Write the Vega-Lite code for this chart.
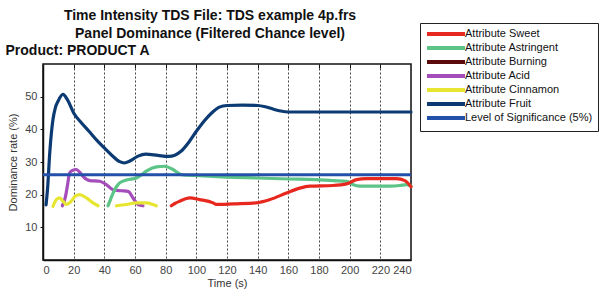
{
  "$schema": "https://vega.github.io/schema/vega-lite/v6.json",
  "autosize": {"type": "none"},
  "width": 368,
  "height": 196,
  "padding": {"left": 43, "top": 64, "right": 192, "bottom": 35},
  "background": "white",
  "config": {
    "font": "Liberation Sans",
    "view": {"stroke": "#111", "strokeWidth": 1.5},
    "axis": {"labelFont": "Liberation Sans", "titleFont": "Liberation Sans", "labelFontSize": 11, "titleFontSize": 11, "labelColor": "#444", "titleColor": "#333", "titleFontWeight": "normal", "domainColor": "#111", "domainWidth": 1.5, "tickColor": "#111"},
    "legend": {"labelFont": "Liberation Sans", "labelFontSize": 11, "labelColor": "#111"}
  },
  "title": {
    "text": ["Time Intensity TDS File: TDS example 4p.frs", "Panel Dominance (Filtered Chance level)"],
    "anchor": "middle",
    "frame": "group",
    "dx": -17,
    "dy": 22,
    "fontSize": 14,
    "fontWeight": "bold",
    "font": "Liberation Sans",
    "color": "#111",
    "lineHeight": 18,
    "offset": 4
  },
  "data": {
    "values": [
      {"s": "Attribute Fruit", "seg": 1, "t": 2, "v": 16.9},
      {"s": "Attribute Fruit", "seg": 1, "t": 3, "v": 22},
      {"s": "Attribute Fruit", "seg": 1, "t": 4.4, "v": 32.8},
      {"s": "Attribute Fruit", "seg": 1, "t": 5.5, "v": 39},
      {"s": "Attribute Fruit", "seg": 1, "t": 6.5, "v": 43},
      {"s": "Attribute Fruit", "seg": 1, "t": 8, "v": 46.5},
      {"s": "Attribute Fruit", "seg": 1, "t": 9.8, "v": 48.6},
      {"s": "Attribute Fruit", "seg": 1, "t": 13, "v": 50.7},
      {"s": "Attribute Fruit", "seg": 1, "t": 16, "v": 49},
      {"s": "Attribute Fruit", "seg": 1, "t": 20, "v": 45},
      {"s": "Attribute Fruit", "seg": 1, "t": 25, "v": 42},
      {"s": "Attribute Fruit", "seg": 1, "t": 30, "v": 39.4},
      {"s": "Attribute Fruit", "seg": 1, "t": 35, "v": 36.7},
      {"s": "Attribute Fruit", "seg": 1, "t": 40, "v": 34.3},
      {"s": "Attribute Fruit", "seg": 1, "t": 45, "v": 32},
      {"s": "Attribute Fruit", "seg": 1, "t": 50, "v": 30.1},
      {"s": "Attribute Fruit", "seg": 1, "t": 53, "v": 29.7},
      {"s": "Attribute Fruit", "seg": 1, "t": 57, "v": 30.4},
      {"s": "Attribute Fruit", "seg": 1, "t": 62, "v": 31.8},
      {"s": "Attribute Fruit", "seg": 1, "t": 67, "v": 32.4},
      {"s": "Attribute Fruit", "seg": 1, "t": 75, "v": 32},
      {"s": "Attribute Fruit", "seg": 1, "t": 82, "v": 31.7},
      {"s": "Attribute Fruit", "seg": 1, "t": 90, "v": 33.3},
      {"s": "Attribute Fruit", "seg": 1, "t": 95, "v": 36},
      {"s": "Attribute Fruit", "seg": 1, "t": 100, "v": 39.4},
      {"s": "Attribute Fruit", "seg": 1, "t": 105, "v": 42.5},
      {"s": "Attribute Fruit", "seg": 1, "t": 110, "v": 45},
      {"s": "Attribute Fruit", "seg": 1, "t": 115, "v": 46.8},
      {"s": "Attribute Fruit", "seg": 1, "t": 120, "v": 47.3},
      {"s": "Attribute Fruit", "seg": 1, "t": 130, "v": 47.4},
      {"s": "Attribute Fruit", "seg": 1, "t": 140, "v": 47.3},
      {"s": "Attribute Fruit", "seg": 1, "t": 145, "v": 46.9},
      {"s": "Attribute Fruit", "seg": 1, "t": 150, "v": 46.2},
      {"s": "Attribute Fruit", "seg": 1, "t": 155, "v": 45.6},
      {"s": "Attribute Fruit", "seg": 1, "t": 160, "v": 45.3},
      {"s": "Attribute Fruit", "seg": 1, "t": 200, "v": 45.3},
      {"s": "Attribute Fruit", "seg": 1, "t": 240, "v": 45.3},
      {"s": "Attribute Acid", "seg": 1, "t": 12.6, "v": 16.6},
      {"s": "Attribute Acid", "seg": 1, "t": 14.7, "v": 19.5},
      {"s": "Attribute Acid", "seg": 1, "t": 16, "v": 23},
      {"s": "Attribute Acid", "seg": 1, "t": 17.4, "v": 26.7},
      {"s": "Attribute Acid", "seg": 1, "t": 19.5, "v": 27.5},
      {"s": "Attribute Acid", "seg": 1, "t": 21.8, "v": 27.7},
      {"s": "Attribute Acid", "seg": 1, "t": 24, "v": 26.8},
      {"s": "Attribute Acid", "seg": 1, "t": 26.1, "v": 25.6},
      {"s": "Attribute Acid", "seg": 1, "t": 30.5, "v": 24.3},
      {"s": "Attribute Acid", "seg": 1, "t": 37, "v": 24.1},
      {"s": "Attribute Acid", "seg": 1, "t": 41.3, "v": 23.1},
      {"s": "Attribute Acid", "seg": 1, "t": 45.7, "v": 21.5},
      {"s": "Attribute Acid", "seg": 1, "t": 51, "v": 21.2},
      {"s": "Attribute Acid", "seg": 1, "t": 55.5, "v": 21},
      {"s": "Attribute Acid", "seg": 1, "t": 58.7, "v": 19},
      {"s": "Attribute Acid", "seg": 1, "t": 62, "v": 17},
      {"s": "Attribute Acid", "seg": 1, "t": 65.2, "v": 16.6},
      {"s": "Attribute Cinnamon", "seg": 1, "t": 6.5, "v": 16.4},
      {"s": "Attribute Cinnamon", "seg": 1, "t": 8.7, "v": 18.5},
      {"s": "Attribute Cinnamon", "seg": 1, "t": 10.9, "v": 19},
      {"s": "Attribute Cinnamon", "seg": 1, "t": 13, "v": 18},
      {"s": "Attribute Cinnamon", "seg": 1, "t": 15.2, "v": 17},
      {"s": "Attribute Cinnamon", "seg": 1, "t": 18.5, "v": 18},
      {"s": "Attribute Cinnamon", "seg": 1, "t": 21, "v": 19.5},
      {"s": "Attribute Cinnamon", "seg": 1, "t": 24, "v": 20},
      {"s": "Attribute Cinnamon", "seg": 1, "t": 28.3, "v": 19},
      {"s": "Attribute Cinnamon", "seg": 1, "t": 32.6, "v": 17.5},
      {"s": "Attribute Cinnamon", "seg": 1, "t": 35.9, "v": 16.6},
      {"s": "Attribute Cinnamon", "seg": 2, "t": 47.9, "v": 16.6},
      {"s": "Attribute Cinnamon", "seg": 2, "t": 54.4, "v": 17},
      {"s": "Attribute Cinnamon", "seg": 2, "t": 60.9, "v": 17.5},
      {"s": "Attribute Cinnamon", "seg": 2, "t": 67.4, "v": 17.5},
      {"s": "Attribute Cinnamon", "seg": 2, "t": 71.7, "v": 17},
      {"s": "Attribute Cinnamon", "seg": 2, "t": 73.9, "v": 16.6},
      {"s": "Attribute Astringent", "seg": 1, "t": 42.4, "v": 16.6},
      {"s": "Attribute Astringent", "seg": 1, "t": 44, "v": 18.5},
      {"s": "Attribute Astringent", "seg": 1, "t": 45.7, "v": 20.5},
      {"s": "Attribute Astringent", "seg": 1, "t": 48, "v": 22.5},
      {"s": "Attribute Astringent", "seg": 1, "t": 50, "v": 23.6},
      {"s": "Attribute Astringent", "seg": 1, "t": 54.4, "v": 24.5},
      {"s": "Attribute Astringent", "seg": 1, "t": 60.9, "v": 25.1},
      {"s": "Attribute Astringent", "seg": 1, "t": 64, "v": 26},
      {"s": "Attribute Astringent", "seg": 1, "t": 67.4, "v": 27.2},
      {"s": "Attribute Astringent", "seg": 1, "t": 74, "v": 28.5},
      {"s": "Attribute Astringent", "seg": 1, "t": 79.4, "v": 28.7},
      {"s": "Attribute Astringent", "seg": 1, "t": 84.8, "v": 27.7},
      {"s": "Attribute Astringent", "seg": 1, "t": 90.3, "v": 26.1},
      {"s": "Attribute Astringent", "seg": 1, "t": 102, "v": 25.8},
      {"s": "Attribute Astringent", "seg": 1, "t": 119.6, "v": 25.4},
      {"s": "Attribute Astringent", "seg": 1, "t": 140, "v": 25.1},
      {"s": "Attribute Astringent", "seg": 1, "t": 161, "v": 24.8},
      {"s": "Attribute Astringent", "seg": 1, "t": 178, "v": 24.6},
      {"s": "Attribute Astringent", "seg": 1, "t": 189, "v": 24.3},
      {"s": "Attribute Astringent", "seg": 1, "t": 198, "v": 24.1},
      {"s": "Attribute Astringent", "seg": 1, "t": 202, "v": 23.1},
      {"s": "Attribute Astringent", "seg": 1, "t": 206.6, "v": 22.6},
      {"s": "Attribute Astringent", "seg": 1, "t": 226, "v": 22.6},
      {"s": "Attribute Astringent", "seg": 1, "t": 232.7, "v": 22.8},
      {"s": "Attribute Astringent", "seg": 1, "t": 237, "v": 23.1},
      {"s": "Attribute Astringent", "seg": 1, "t": 240, "v": 22.6},
      {"s": "Attribute Sweet", "seg": 1, "t": 83.7, "v": 16.6},
      {"s": "Attribute Sweet", "seg": 1, "t": 86, "v": 17.3},
      {"s": "Attribute Sweet", "seg": 1, "t": 89.2, "v": 18},
      {"s": "Attribute Sweet", "seg": 1, "t": 95.7, "v": 19},
      {"s": "Attribute Sweet", "seg": 1, "t": 102, "v": 18.5},
      {"s": "Attribute Sweet", "seg": 1, "t": 110.9, "v": 17.5},
      {"s": "Attribute Sweet", "seg": 1, "t": 113, "v": 17},
      {"s": "Attribute Sweet", "seg": 1, "t": 124, "v": 17.2},
      {"s": "Attribute Sweet", "seg": 1, "t": 139, "v": 17.5},
      {"s": "Attribute Sweet", "seg": 1, "t": 148, "v": 18.5},
      {"s": "Attribute Sweet", "seg": 1, "t": 158.8, "v": 20.5},
      {"s": "Attribute Sweet", "seg": 1, "t": 167.5, "v": 22},
      {"s": "Attribute Sweet", "seg": 1, "t": 174, "v": 22.6},
      {"s": "Attribute Sweet", "seg": 1, "t": 189, "v": 22.8},
      {"s": "Attribute Sweet", "seg": 1, "t": 198, "v": 23.3},
      {"s": "Attribute Sweet", "seg": 1, "t": 204.4, "v": 24.6},
      {"s": "Attribute Sweet", "seg": 1, "t": 211, "v": 24.9},
      {"s": "Attribute Sweet", "seg": 1, "t": 230.5, "v": 24.9},
      {"s": "Attribute Sweet", "seg": 1, "t": 236, "v": 24.3},
      {"s": "Attribute Sweet", "seg": 1, "t": 240, "v": 22.4},
      {"s": "Level of Significance (5%)", "seg": 1, "t": 0, "v": 26.1},
      {"s": "Level of Significance (5%)", "seg": 1, "t": 240, "v": 26.1}
    ]
  },
  "encoding": {
    "color": {
      "field": "s",
      "type": "nominal",
      "scale": {
        "domain": ["Attribute Sweet", "Attribute Astringent", "Attribute Burning", "Attribute Acid", "Attribute Cinnamon", "Attribute Fruit", "Level of Significance (5%)"],
        "range": ["#e6281e", "#5cc486", "#5a0a0a", "#a54dbb", "#e6e632", "#0c3b74", "#2350a8"]
      },
      "legend": {
        "title": null,
        "orient": "none",
        "legendX": 377,
        "legendY": -41,
        "padding": 5,
        "strokeColor": "#222",
        "fillColor": "white",
        "symbolType": "M-4.75,0H4.75",
        "symbolSize": 64,
        "symbolStrokeWidth": 4,
        "symbolOffset": 15,
        "labelOffset": 13,
        "rowPadding": -4,
        "labelLimit": 200
      }
    }
  },
  "layer": [
    {
      "transform": [{"filter": "datum.s !== 'Level of Significance (5%)'"}],
      "mark": {"type": "line", "strokeWidth": 3.2, "interpolate": "monotone", "strokeCap": "round"},
      "encoding": {
        "x": {
          "field": "t", "type": "quantitative",
          "scale": {"domain": [0, 240], "nice": false},
          "axis": {"title": "Time (s)", "values": [0, 20, 40, 60, 80, 100, 120, 140, 160, 180, 200, 220, 240], "grid": true, "gridDash": [2, 2], "gridColor": "#444", "gridWidth": 1, "ticks": false, "labelPadding": 4, "titlePadding": 2}
        },
        "y": {
          "field": "v", "type": "quantitative",
          "scale": {"domain": [0, 60], "nice": false},
          "axis": {"title": "Dominance rate (%)", "values": [10, 20, 30, 40, 50], "grid": false, "tickSize": 3, "labelPadding": 3, "titlePadding": 6}
        },
        "detail": {"field": "seg", "type": "nominal"}
      }
    },
    {
      "transform": [{"filter": "datum.s === 'Level of Significance (5%)'"}],
      "mark": {"type": "line", "strokeWidth": 3},
      "encoding": {
        "x": {
          "field": "t", "type": "quantitative",
          "scale": {"domain": [0, 240], "nice": false},
          "axis": {"orient": "top", "values": [20, 40, 60, 80, 100, 120, 140, 160, 180, 200, 220], "labels": false, "domain": false, "grid": false, "tickSize": -4, "title": "Product: PRODUCT A", "titleX": -38, "titleY": -10, "titleAlign": "left", "titleBaseline": "alphabetic", "titleFontSize": 14, "titleFontWeight": "bold", "titleColor": "#111"}
        },
        "y": {"field": "v", "type": "quantitative", "scale": {"domain": [0, 60], "nice": false}}
      }
    }
  ],
  "resolve": {"axis": {"x": "independent"}}
}
